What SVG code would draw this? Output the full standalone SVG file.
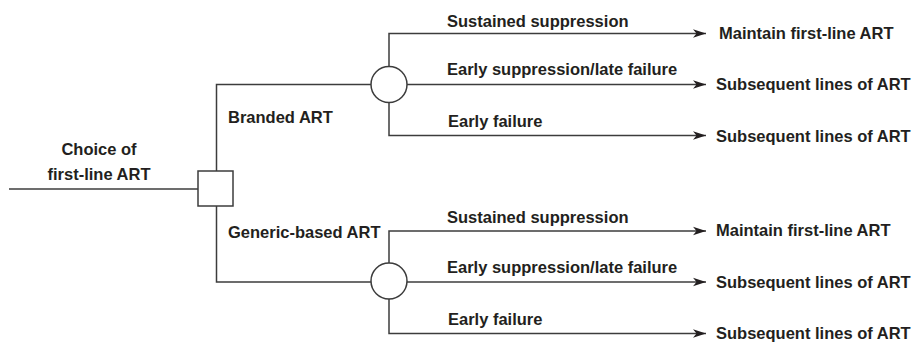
<svg xmlns="http://www.w3.org/2000/svg" width="918" height="343" viewBox="0 0 918 343">
<style>
.t{font-family:"Liberation Sans",Arial,sans-serif;font-weight:bold;font-size:16.5px;fill:#231f20}
.l{fill:none;stroke:#3c3c3c;stroke-width:1.5}
.n{fill:#fff;stroke:#3c3c3c;stroke-width:1.5}
</style>
<defs>
<marker id="ar" markerUnits="userSpaceOnUse" markerWidth="14" markerHeight="10" refX="13" refY="5" orient="auto">
<path d="M0,0.8 L13,5 L0,9.2 L3.5,5 Z" fill="#231f20"/>
</marker>
</defs>
<rect width="918" height="343" fill="#fff"/>
<g id="connectors">
<path class="l" d="M9,189 H198"/>
<path class="l" d="M216.5,171 V84.5 H371"/>
<path class="l" d="M216.5,206 V282 H371"/>
<path class="l" d="M389,66.5 V33.5 H706" marker-end="url(#ar)"/>
<path class="l" d="M407,84.5 H706" marker-end="url(#ar)"/>
<path class="l" d="M389,102.5 V135.5 H706" marker-end="url(#ar)"/>
<path class="l" d="M389,263 V231 H706" marker-end="url(#ar)"/>
<path class="l" d="M407,282 H706" marker-end="url(#ar)"/>
<path class="l" d="M389,299 V333.5 H706" marker-end="url(#ar)"/>
</g>
<g id="choice"><rect class="n" x="198" y="171" width="35" height="35"/></g>
<g id="chance-branded"><circle class="n" cx="389" cy="84.5" r="18"/></g>
<g id="chance-generic"><circle class="n" cx="389" cy="281" r="18"/></g>
<g id="labels">
<text class="t" x="99" y="155" text-anchor="middle">Choice of</text>
<text class="t" x="99" y="179.5" text-anchor="middle">first-line ART</text>
<text class="t" x="228" y="123">Branded ART</text>
<text class="t" x="228" y="237.5">Generic-based ART</text>
<text class="t" x="447" y="26.5">Sustained suppression</text>
<text class="t" x="447" y="75">Early suppression/late failure</text>
<text class="t" x="448" y="126.5">Early failure</text>
<text class="t" x="447" y="223">Sustained suppression</text>
<text class="t" x="447" y="273">Early suppression/late failure</text>
<text class="t" x="448" y="325">Early failure</text>
</g>
<g id="outcomes">
<text class="t" x="719" y="38.5">Maintain first-line ART</text>
<text class="t" x="716" y="90">Subsequent lines of ART</text>
<text class="t" x="716" y="141.5">Subsequent lines of ART</text>
<text class="t" x="716" y="236">Maintain first-line ART</text>
<text class="t" x="716" y="288">Subsequent lines of ART</text>
<text class="t" x="716" y="339">Subsequent lines of ART</text>
</g>
</svg>
